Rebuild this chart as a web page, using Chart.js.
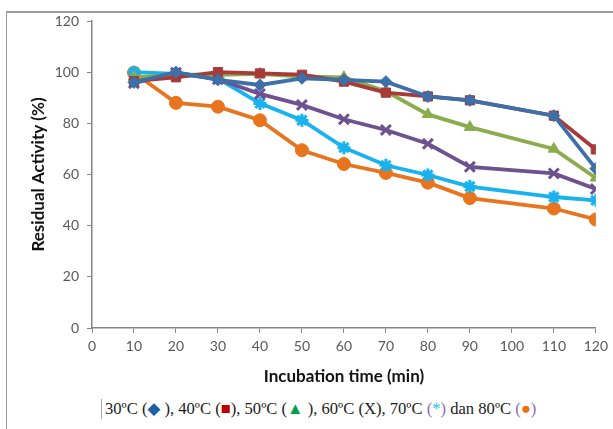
<!DOCTYPE html>
<html>
<head>
<meta charset="utf-8">
<script src="https://cdn.jsdelivr.net/npm/chart.js@4"></script>
<style>
  html, body { margin: 0; padding: 0; background: #fff; }
  body { width: 613px; height: 429px; position: relative; overflow: hidden; }
  #frameTop { position: absolute; left: 6px; top: 11px; width: 607px; height: 2px; background: #9a9a9a; }
  #frameLeft { position: absolute; left: 6px; top: 11px; width: 1px; height: 418px; background: #9a9a9a; }
  #wrap { position: absolute; left: 0; top: 0; width: 613px; height: 390px; }
  #caption { position: absolute; left: 101px; top: 399px; font-family: "Liberation Serif", "DejaVu Serif", serif; font-size: 16.6px; color: #222; white-space: nowrap; border-left: 1px solid #aaa; padding-left: 3px; line-height: 20px; }
  #caption .b { color: #1f5fa8; }
  #caption .r { color: #c00000; }
  #caption .g { color: #00a050; }
  #caption .p { color: #8a6fb5; }
  #caption .c { color: #20b8f0; }
  #caption .o { color: #f07010; }
</style>
</head>
<body>
<div id="frameTop"></div>
<div id="frameLeft"></div>
<div id="wrap"><canvas id="c" width="613" height="390"></canvas></div>
<div id="caption">30ºC (<span class="b">◆</span> ), 40ºC (<span class="r">■</span>), 50ºC (<span class="g">▲</span> ), 60ºC (X), 70ºC <span class="p">(</span><span class="c">*</span><span class="p">)</span> dan 80ºC <span class="p">(</span><span class="o">●</span><span class="p">)</span></div>
<script>
const times = [10, 20, 30, 40, 50, 60, 70, 80, 90, 110, 120];
const seriesNames = ["30°C", "40°C", "50°C", "60°C", "70°C", "80°C"];
const s30 = [96, 100, 97, 95, 97.6, 97, 96.3, 90.5, 89, 83, 62.3];
const s40 = [96.5, 98, 100, 99.5, 99, 96.3, 92, 90.5, 89, 83, 69.8];
const s50 = [98, 99, 99, 99.3, 98.3, 98, 92.5, 83.5, 78.5, 70, 58.7];
const s60 = [95.7, 99.8, 97.2, 91.5, 87.2, 81.6, 77.4, 72, 63, 60.4, 54.3];
const s70 = [100, 99.3, 97.5, 87.8, 81.2, 70.5, 63.6, 59.8, 55.3, 51.2, 49.9];
const s80 = [99.8, 88, 86.5, 81.2, 69.5, 64.1, 60.6, 56.8, 50.8, 46.7, 42.4];
const xTicks = [0, 10, 20, 30, 40, 50, 60, 70, 80, 90, 100, 110, 120];
const yTicks = [0, 20, 40, 60, 80, 100, 120];

const styles = [
  { color: "#3d6fa8", point: "rectRot", r: 6 },
  { color: "#a83a3a", point: "rect", r: 6.5 },
  { color: "#8aac4c", point: "triangle", r: 6.5 },
  { color: "#6e5190", point: "crossRot", r: 7 },
  { color: "#18b2ee", point: "star", r: 6.5 },
  { color: "#e8741e", point: "circle", r: 6.5 }
];
const allSeries = [s30, s40, s50, s60, s70, s80];

const datasets = allSeries.map((vals, i) => ({
  label: seriesNames[i],
  data: times.map((t, j) => ({ x: t, y: vals[j] })),
  borderColor: styles[i].color,
  backgroundColor: styles[i].color,
  pointBorderColor: styles[i].color,
  pointBackgroundColor: styles[i].color,
  pointStyle: styles[i].point,
  pointRadius: styles[i].r,
  pointBorderWidth: (styles[i].point === "crossRot" || styles[i].point === "star") ? 3 : 1,
  borderWidth: 3.8,
  tension: 0,
  fill: false
}));

const tickFont = { family: "Lato, 'Open Sans', sans-serif", size: 14 };
const titleFont = { family: "Lato, 'Open Sans', sans-serif", size: 17, weight: "bold" };

new Chart(document.getElementById("c"), {
  type: "line",
  data: { datasets },
  options: {
    responsive: false,
    animation: false,
    devicePixelRatio: 1,
    layout: { padding: { left: 24, right: 17, top: 21, bottom: 0 } },
    plugins: { legend: { display: false }, tooltip: { enabled: false } },
    scales: {
      x: {
        type: "linear",
        min: 0, max: 120,
        afterBuildTicks: (scale) => { scale.ticks = xTicks.map(v => ({ value: v })); },
        afterFit: (scale) => { scale.height = 62; },
        ticks: { color: "#595959", font: tickFont, padding: 5, maxRotation: 0 },
        grid: { display: true, drawOnChartArea: false, drawTicks: true, tickLength: 5, color: "#868686", lineWidth: 1 },
        border: { display: true, color: "#868686", width: 1.5 },
        title: { display: true, text: "Incubation time (min)", color: "#111", font: titleFont, padding: { top: 4, bottom: 3 } }
      },
      y: {
        type: "linear",
        min: 0, max: 120,
        afterBuildTicks: (scale) => { scale.ticks = yTicks.map(v => ({ value: v })); },
        afterFit: (scale) => { scale.width = 68; },
        ticks: { color: "#595959", font: tickFont, padding: 8 },
        grid: { display: true, drawOnChartArea: false, drawTicks: true, tickLength: 5, color: "#868686", lineWidth: 1 },
        border: { display: true, color: "#868686", width: 1.5 },
        title: { display: true, text: "Residual Activity (%)", color: "#111", font: titleFont, padding: { top: 4, bottom: 4 } }
      }
    }
  }
});
</script>
</body>
</html>
